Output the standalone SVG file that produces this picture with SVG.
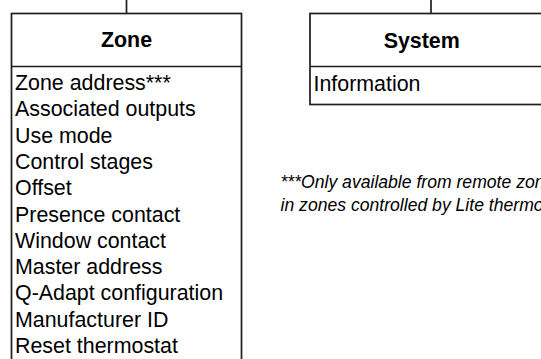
<svg xmlns="http://www.w3.org/2000/svg" width="541" height="359" viewBox="0 0 541 359">
<style>
.box{fill:#fff;stroke:#1e1e1e;stroke-width:1.7}
.ln{stroke:#1e1e1e;stroke-width:1.7;fill:none}
.hd{font-family:"Liberation Sans",Arial,sans-serif;font-weight:bold;font-size:21.4px;fill:#000;text-anchor:middle}
.it{font-family:"Liberation Sans",Arial,sans-serif;font-size:21.4px;fill:#000}
.nt{font-family:"Liberation Sans",Arial,sans-serif;font-style:italic;font-size:17.6px;fill:#000}
</style>
<rect width="541" height="359" fill="#fff"/>
<g id="connectors">
<line class="ln" x1="126.5" y1="0" x2="126.5" y2="13.5"/>
<line class="ln" x1="431" y1="0" x2="431" y2="13.5"/>
</g>
<g id="zone">
<rect class="box" x="11.5" y="13.5" width="230" height="400"/>
<line class="ln" x1="11.5" y1="66.5" x2="241.5" y2="66.5"/>
<text class="hd" x="126.5" y="47">Zone</text>
<text class="it" x="15" y="90">Zone address***</text>
<text class="it" x="15" y="116.3">Associated outputs</text>
<text class="it" x="15" y="142.6">Use mode</text>
<text class="it" x="15" y="168.9">Control stages</text>
<text class="it" x="15" y="195.2">Offset</text>
<text class="it" x="15" y="221.5">Presence contact</text>
<text class="it" x="15" y="247.8">Window contact</text>
<text class="it" x="15" y="274.1">Master address</text>
<text class="it" x="15" y="300.4">Q-Adapt configuration</text>
<text class="it" x="15" y="326.7">Manufacturer ID</text>
<text class="it" x="15" y="353">Reset thermostat</text>
</g>
<g id="system">
<rect class="box" x="310" y="13.5" width="250" height="91"/>
<line class="ln" x1="310" y1="66.5" x2="560" y2="66.5"/>
<text class="hd" x="421.7" y="47.5">System</text>
<text class="it" x="313.5" y="91">Information</text>
</g>
<g id="note">
<text class="nt" x="280.5" y="188">***Only available from remote zones</text>
<text class="nt" x="280.5" y="210.5">in zones controlled by Lite thermostats</text>
</g>
</svg>
